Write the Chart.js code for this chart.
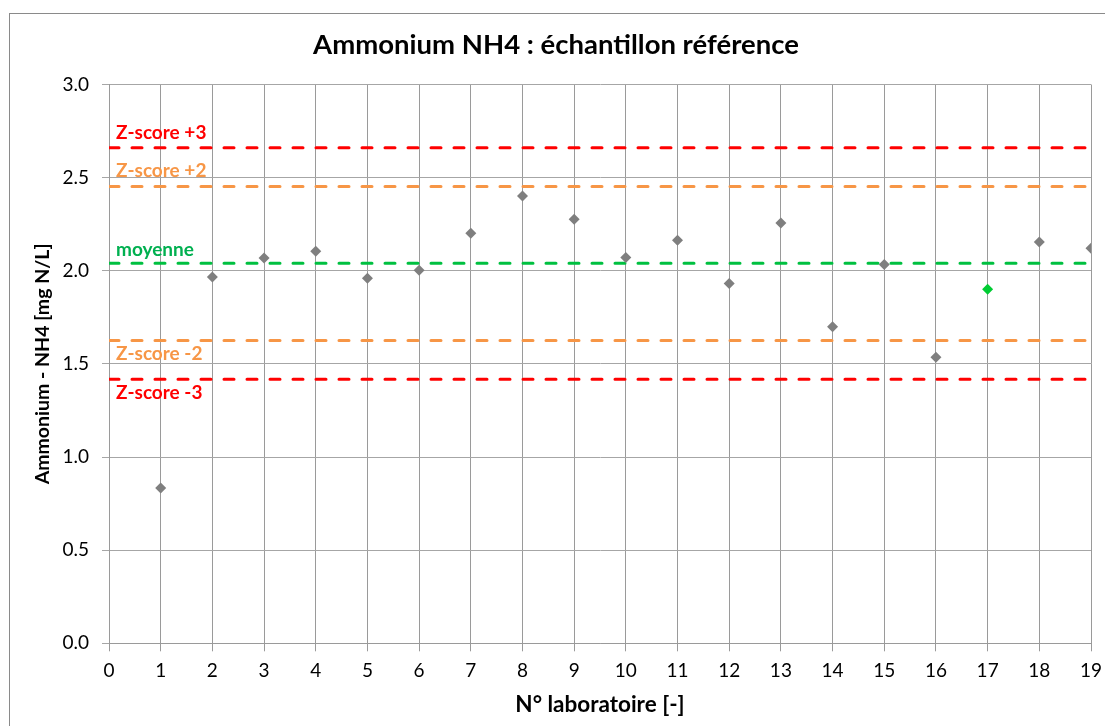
<!DOCTYPE html>
<html>
<head>
<meta charset="utf-8">
<title>Ammonium NH4</title>
<script src="https://cdn.jsdelivr.net/npm/chart.js"></script>
<style>
    body { margin: 0; background: #ffffff; overflow: hidden; }
    #wrap { position: relative; width: 1105px; height: 726px; }
    #myChart { position: absolute; left: 0; top: 0; }
    #frame { position: absolute; left: 9px; top: 13px; width: 1200px; height: 800px;
             border: 1px solid #8a8a8a; pointer-events: none; }
</style>
</head>
<body>
<div id="wrap">
    <canvas id="myChart" width="1105" height="726"></canvas>
    <div id="frame"></div>
</div>
<script>
// N° laboratoire and measured NH4 (mg N/L)
const labs = [1, 2, 3, 4, 5, 6, 7, 8, 9, 10, 11, 12, 13, 14, 15, 16, 17, 18, 19];
const values = [0.834, 1.966, 2.068, 2.105, 1.960, 2.003, 2.202, 2.401, 2.277, 2.071,
                2.164, 1.931, 2.256, 1.700, 2.033, 1.536, 1.901, 2.155, 2.121];
const highlightLab = 17;

// reference lines (mean and z-score limits)
const refNames = ['Z-score +3', 'Z-score +2', 'moyenne', 'Z-score -2', 'Z-score -3'];
const refValues = [2.660, 2.453, 2.041, 1.625, 1.418];
const refColors = ['#ff0000', '#f79646', '#00c040', '#f79646', '#ff0000'];
const refTextColors = ['#ff0000', '#f79646', '#00b050', '#f79646', '#ff0000'];
const refLabelBelow = [false, false, false, true, true];

const xTicks = [0, 19];
const yTicks = [0, 3.0];

const FONT = 'Lato, "Liberation Sans", sans-serif';

const refLabels = {
    id: 'refLabels',
    afterDatasetsDraw(chart) {
        const ctx = chart.ctx;
        const x = chart.scales.x.getPixelForValue(xTicks[0]) + 7;
        ctx.save();
        ctx.font = 'bold 19px ' + FONT;
        ctx.textAlign = 'left';
        refNames.forEach(function(name, i) {
            const y = chart.scales.y.getPixelForValue(refValues[i]);
            ctx.fillStyle = refTextColors[i];
            if (refLabelBelow[i]) {
                ctx.textBaseline = 'top';
                ctx.fillText(name, x, y + 4);
            } else {
                ctx.textBaseline = 'alphabetic';
                ctx.fillText(name, x, y - (name === 'moyenne' ? 7 : 9));
            }
        });
        ctx.restore();
    }
};

const datasets = [{
    type: 'scatter',
    label: 'laboratoires',
    data: labs.map((lab, i) => ({ x: lab, y: values[i] })),
    pointStyle: 'rectRot',
    pointRadius: 5.5,
    pointHoverRadius: 5.5,
    borderWidth: 0,
    pointBackgroundColor: labs.map(lab => lab === highlightLab ? '#00cc33' : '#7f7f7f'),
    order: 0
}];

refNames.forEach(function(name, i) {
    datasets.push({
        type: 'line',
        label: name,
        data: [{ x: xTicks[0], y: refValues[i] }, { x: xTicks[1], y: refValues[i] }],
        borderColor: refColors[i],
        borderWidth: 3,
        borderDash: [10, 13],
        borderCapStyle: 'round',
        pointRadius: 0,
        fill: false,
        order: 1
    });
});

const ctx = document.getElementById('myChart').getContext('2d');

new Chart(ctx, {
    data: { datasets: datasets },
    plugins: [refLabels],
    options: {
        responsive: false,
        animation: false,
        devicePixelRatio: 1,
        layout: {
            padding: { left: 7, right: 0, top: 0, bottom: 0 }
        },
        plugins: {
            legend: { display: false },
            tooltip: { enabled: false },
            title: {
                display: true,
                text: 'Ammonium NH4 : échantillon référence',
                color: '#000000',
                font: { family: FONT, size: 27.5, weight: 'bold' },
                padding: { top: 28.5, bottom: 23 }
            }
        },
        scales: {
            x: {
                type: 'linear',
                min: xTicks[0],
                max: xTicks[1],
                afterFit: function(scale) {
                    scale.height = 82.7;
                    scale.paddingRight = 14;
                },
                ticks: {
                    stepSize: 1,
                    color: '#000000',
                    padding: 8,
                    maxRotation: 0,
                    font: { family: FONT, size: 19 }
                },
                grid: {
                    color: '#9a9a9a',
                    tickLength: 8,
                    drawTicks: true
                },
                border: { color: '#9a9a9a' },
                title: {
                    display: true,
                    text: 'N° laboratoire [-]',
                    color: '#000000',
                    font: { family: FONT, size: 22.5, weight: 'bold' },
                    padding: { top: 0, bottom: 7.5 }
                }
            },
            y: {
                type: 'linear',
                min: yTicks[0],
                max: yTicks[1],
                afterFit: function(scale) { scale.width = 102; },
                ticks: {
                    stepSize: 0.5,
                    color: '#000000',
                    padding: 13,
                    font: { family: FONT, size: 19 },
                    callback: function(value) { return value.toFixed(1); }
                },
                grid: {
                    color: '#a6a6a6',
                    tickLength: 7,
                    drawTicks: true
                },
                border: { color: '#9a9a9a' },
                title: {
                    display: true,
                    text: 'Ammonium - NH4 [mg N/L]',
                    color: '#000000',
                    font: { family: FONT, size: 19.5, weight: 'bold' },
                    padding: { top: 24, bottom: 0 }
                }
            }
        }
    }
});
</script>
</body>
</html>
